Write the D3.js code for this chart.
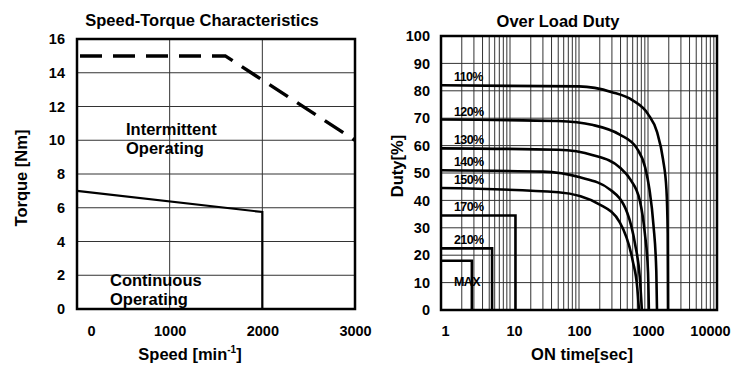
<!DOCTYPE html>
<html>
<head>
<meta charset="utf-8">
<script src="https://cdn.jsdelivr.net/npm/d3@7"></script>
<style>
  html, body { margin: 0; padding: 0; background: #fff; }
  svg { display: block; font-family: "Liberation Sans", Arial, sans-serif; font-weight: bold; }
  .axis text { font-size: 14.5px; fill: #000; }
</style>
</head>
<body>
<div id="chart"></div>
<script>
// ---- speed-torque data ----
const speedTicks = [0, 1000, 2000, 3000];
const torqueTicks = [0, 2, 4, 6, 8, 10, 12, 14, 16];
const contSpeed = [0, 2000, 2000];
const contTorque = [7.0, 5.75, 0];
const intSpeed = [0, 1600, 3000];
const intTorque = [15, 15, 10];

// ---- over load duty data: [on time sec, duty %] ----
const timeTicks = [1, 10, 100, 1000, 10000];
const dutyTicks = [0, 10, 20, 30, 40, 50, 60, 70, 80, 90, 100];
const loadLabels = ['110%', '120%', '130%', '140%', '150%', '170%', '210%', 'MAX'];
const duty110 = [[1, 82], [100, 81.6], [300, 79.5], [600, 76.5], [1000, 71.5], [1350, 65], [1650, 55], [1850, 44], [1930, 28], [1950, 0]];
const duty120 = [[1, 69.5], [50, 69], [160, 67.5], [390, 64], [690, 59], [910, 52], [1050, 44], [1200, 31], [1320, 14], [1350, 0]];
const duty130 = [[1, 59], [50, 58.5], [160, 56.5], [390, 52], [560, 47.5], [760, 40], [900, 28], [1000, 14], [1030, 0]];
const duty140 = [[1, 51], [30, 50.5], [100, 48.5], [280, 44], [500, 35.5], [650, 24], [760, 12], [815, 0]];
const duty150 = [[1, 44.5], [50, 43], [200, 38.5], [390, 32], [600, 18], [700, 8], [740, 0]];
const duty170 = [[1, 34.5], [12, 34.5], [12, 0]];
const duty210 = [[1, 22.5], [5.5, 22.5], [5.5, 0]];
const dutyMax = [[1, 18], [2.8, 18], [2.8, 0]];

const curves = [duty110, duty120, duty130, duty140, duty150];
const steps = [duty170, duty210, dutyMax];

const svg = d3.select('#chart').append('svg').attr('width', 732).attr('height', 365);

// ================= left chart =================
const L = {left: 77, right: 355, top: 39, bottom: 309};
const xL = d3.scaleLinear().domain([0, 3000]).range([L.left, L.right]);
const yL = d3.scaleLinear().domain([0, 16]).range([L.bottom, L.top]);

const gl = svg.append('g');
gl.selectAll('.hgrid').data(torqueTicks).enter().append('line')
    .attr('x1', L.left).attr('x2', L.right)
    .attr('y1', d => yL(d)).attr('y2', d => yL(d))
    .attr('stroke', '#333').attr('stroke-width', 1);
gl.selectAll('.vgrid').data(speedTicks).enter().append('line')
    .attr('x1', d => xL(d)).attr('x2', d => xL(d))
    .attr('y1', L.top).attr('y2', L.bottom)
    .attr('stroke', '#333').attr('stroke-width', 1);
gl.append('rect').attr('x', L.left).attr('y', L.top)
    .attr('width', L.right - L.left).attr('height', L.bottom - L.top)
    .attr('fill', 'none').attr('stroke', '#000').attr('stroke-width', 2.5);

const lineL = d3.line().x(d => xL(d[0])).y(d => yL(d[1]));
gl.append('path').datum(contSpeed.map((s, i) => [s, contTorque[i]]))
    .attr('d', lineL).attr('fill', 'none').attr('stroke', '#000').attr('stroke-width', 2.2);
gl.append('path').datum(intSpeed.map((s, i) => [s, intTorque[i]]))
    .attr('d', lineL).attr('fill', 'none').attr('stroke', '#000').attr('stroke-width', 3.5)
    .attr('stroke-dasharray', '22,11').attr('stroke-dashoffset', -3);

// axes (labels only)
const axL = gl.append('g').attr('class', 'axis')
    .attr('transform', `translate(${L.left},0)`)
    .call(d3.axisLeft(yL).tickValues(torqueTicks).tickSize(0).tickPadding(12));
const axB = gl.append('g').attr('class', 'axis')
    .attr('transform', `translate(0,${L.bottom})`)
    .call(d3.axisBottom(xL).tickValues(speedTicks).tickFormat(d3.format('d')).tickSize(0).tickPadding(17));
axB.selectAll('text').attr('dx', (d, i) => i === 0 ? 14 : 0);
axL.select('.domain').remove();
axB.select('.domain').remove();

gl.append('text').attr('x', 202).attr('y', 26).attr('text-anchor', 'middle')
    .style('font-size', '16.5px').text('Speed-Torque Characteristics');
gl.append('text').attr('transform', 'translate(27,178) rotate(-90)').attr('text-anchor', 'middle')
    .style('font-size', '16.5px').text('Torque [Nm]');
const sp = gl.append('text').attr('x', 190).attr('y', 360).attr('text-anchor', 'middle')
    .style('font-size', '16.5px');
sp.append('tspan').text('Speed [min');
sp.append('tspan').attr('dy', -7).style('font-size', '10px').text('-1');
sp.append('tspan').attr('dy', 7).text(']');

gl.append('text').attr('x', 126).attr('y', 135).style('font-size', '16.5px').text('Intermittent');
gl.append('text').attr('x', 126).attr('y', 154).style('font-size', '16.5px').text('Operating');
gl.append('text').attr('x', 110).attr('y', 286).style('font-size', '16.5px').text('Continuous');
gl.append('text').attr('x', 110).attr('y', 305).style('font-size', '16.5px').text('Operating');

// ================= right chart =================
const R = {left: 441, right: 717, top: 36, bottom: 310};
const xR = d3.scaleLog().domain([1, 10000]).range([R.left, R.right]);
const yR = d3.scaleLinear().domain([0, 100]).range([R.bottom, R.top]);

const gr = svg.append('g');
gr.selectAll('.hgrid').data(dutyTicks).enter().append('line')
    .attr('x1', R.left).attr('x2', R.right)
    .attr('y1', d => yR(d)).attr('y2', d => yR(d))
    .attr('stroke', '#333').attr('stroke-width', 1);
gr.selectAll('.vgrid').data(xR.ticks()).enter().append('line')
    .attr('x1', d => xR(d)).attr('x2', d => xR(d))
    .attr('y1', R.top).attr('y2', R.bottom)
    .attr('stroke', '#333').attr('stroke-width', 1);
gr.append('rect').attr('x', R.left).attr('y', R.top)
    .attr('width', R.right - R.left).attr('height', R.bottom - R.top)
    .attr('fill', 'none').attr('stroke', '#000').attr('stroke-width', 2.5);

const curveLine = d3.line().x(d => xR(d[0])).y(d => yR(d[1])).curve(d3.curveMonotoneX);
const stepLine = d3.line().x(d => xR(d[0])).y(d => yR(d[1]));
gr.selectAll('.curve').data(curves).enter().append('path')
    .attr('d', curveLine).attr('fill', 'none').attr('stroke', '#000').attr('stroke-width', 2.6);
gr.selectAll('.step').data(steps).enter().append('path')
    .attr('d', stepLine).attr('fill', 'none').attr('stroke', '#000').attr('stroke-width', 2.6);

const allSeries = curves.concat(steps);
gr.selectAll('.lbl').data(loadLabels).enter().append('text')
    .attr('x', 454)
    .attr('y', (d, i) => yR(allSeries[i][0][1]) + (d === 'MAX' ? 25 : -4))
    .style('font-size', '12.5px').style('letter-spacing', '-0.6px')
    .text(d => d);

const axRL = gr.append('g').attr('class', 'axis')
    .attr('transform', `translate(${R.left},0)`)
    .call(d3.axisLeft(yR).tickValues(dutyTicks).tickSize(0).tickPadding(11));
const axRB = gr.append('g').attr('class', 'axis')
    .attr('transform', `translate(0,${R.bottom})`)
    .call(d3.axisBottom(xR).tickValues(timeTicks).tickFormat(d3.format('d')).tickSize(0).tickPadding(16));
axRB.selectAll('text').attr('dx', (d, i) => i < 2 ? 4 : (i === 4 ? -7 : 0));
axRL.select('.domain').remove();
axRB.select('.domain').remove();

gr.append('text').attr('x', 558).attr('y', 27).attr('text-anchor', 'middle')
    .style('font-size', '16.5px').text('Over Load Duty');
gr.append('text').attr('transform', 'translate(403,166) rotate(-90)').attr('text-anchor', 'middle')
    .style('font-size', '16.5px').text('Duty[%]');
gr.append('text').attr('x', 582).attr('y', 360).attr('text-anchor', 'middle')
    .style('font-size', '16.5px').text('ON time[sec]');
</script>
</body>
</html>
